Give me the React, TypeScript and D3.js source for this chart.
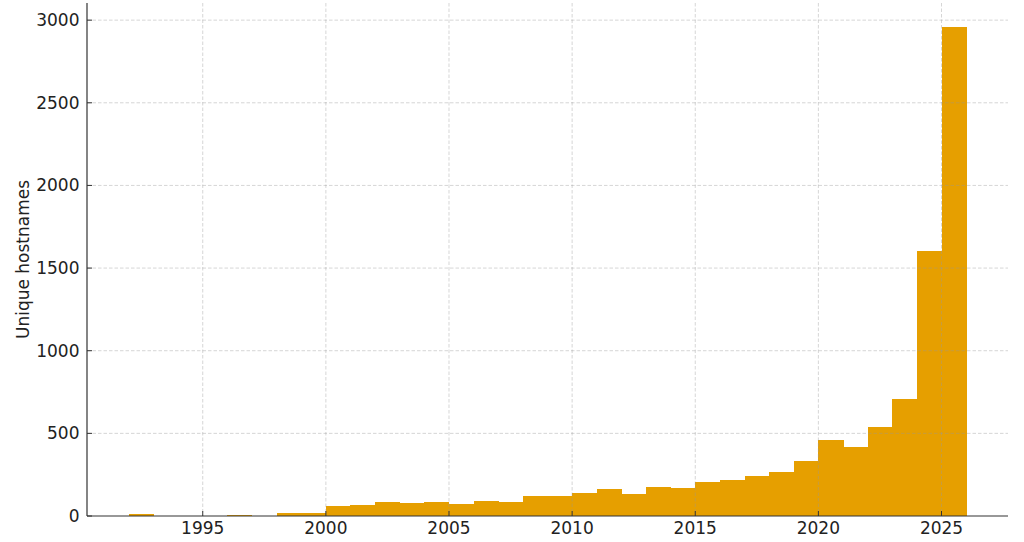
import React from "react";
import * as d3 from "d3";

const years = [1992,1993,1994,1995,1996,1997,1998,1999,2000,2001,2002,2003,2004,2005,2006,2007,2008,2009,2010,2011,2012,2013,2014,2015,2016,2017,2018,2019,2020,2021,2022,2023,2024,2025];
const counts = [12,0,0,0,6,0,21,21,60,65,82,77,85,73,91,83,123,123,139,161,135,173,167,206,217,240,264,335,458,417,538,708,1603,2956];
const xTicks = [1995,2000,2005,2010,2015,2020,2025];
const yTicks = [0,500,1000,1500,2000,2500,3000];

const W = 1024, H = 542;
const L = 87, R = 1008, T = 3, B = 516;
const FONT = "'DejaVu Sans', sans-serif";

export default function App() {
  const xMin = 1992, xMax = 2026;
  const pad = (xMax - xMin) * 0.05;
  const x = d3.scaleLinear().domain([xMin - pad, xMax + pad]).range([L, R]);
  const yMax = d3.max(counts)! * 1.05;
  const y = d3.scaleLinear().domain([0, yMax]).range([B, T]);
  const grid = { stroke: "#999", strokeOpacity: 0.5, strokeWidth: 0.8, strokeDasharray: "3.5,2" };
  return (
    <svg width={W} height={H} style={{ position: "absolute", left: 0, top: 0, background: "#fff" }}>
      <g shapeRendering="crispEdges">
        {years.map((yr, i) => counts[i] > 0 && (
          <rect key={yr} x={x(yr)} width={x(yr + 1) - x(yr) + 0.5} y={y(counts[i])} height={Math.max(1, B - y(counts[i]))} fill="#E69F00" />
        ))}
      </g>
      {xTicks.map(t => <line key={"gx" + t} x1={x(t)} x2={x(t)} y1={T} y2={B} {...grid} />)}
      {yTicks.filter(t => t > 0).map(t => <line key={"gy" + t} x1={L} x2={R} y1={y(t)} y2={y(t)} {...grid} />)}
      <line x1={L} x2={R} y1={B} y2={B} stroke="#333" strokeWidth={1.2} />
      <line x1={L} x2={L} y1={T} y2={B} stroke="#333" strokeWidth={1.2} />
      {xTicks.map(t => (
        <g key={"xt" + t}>
          <line x1={x(t)} x2={x(t)} y1={B} y2={B - 5} stroke="#333" strokeWidth={1} />
          <text x={x(t)} y={B + 18} textAnchor="middle" fontFamily={FONT} fontSize={17} fill="#222">{t}</text>
        </g>
      ))}
      {yTicks.map(t => (
        <g key={"yt" + t}>
          <line x1={L} x2={L + 5} y1={y(t)} y2={y(t)} stroke="#333" strokeWidth={1} />
          <text x={L - 7.5} y={y(t)} dy="0.35em" textAnchor="end" fontFamily={FONT} fontSize={17} fill="#222">{t}</text>
        </g>
      ))}
      <text transform={`translate(29,${(T + B) / 2}) rotate(-90)`} textAnchor="middle" fontFamily={FONT} fontSize={17} fill="#222">Unique hostnames</text>
    </svg>
  );
}
